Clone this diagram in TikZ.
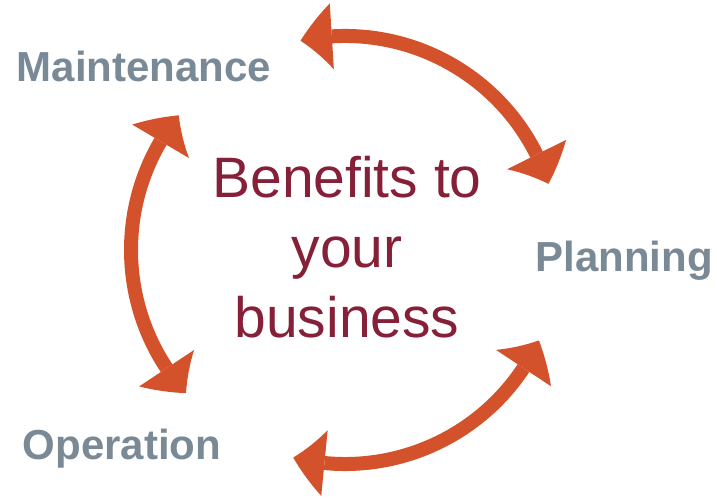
\documentclass[tikz,border=0pt]{standalone}
\usepackage{fontspec}
\setmainfont{Liberation Sans}
\usetikzlibrary{calc,positioning,arrows.meta,bending}

\definecolor{arrowred}{RGB}{211,82,43}
\definecolor{benefitred}{RGB}{133,32,56}
\definecolor{labelgray}{RGB}{122,137,150}

\begin{document}
\begin{tikzpicture}[x=1pt,y=1pt,inner sep=0mm,
  cyc/.style={line width=14pt,draw=arrowred,
    >={Triangle[length=32pt,width=66pt,line width=0pt,bend]},<->},
  lbl/.style={labelgray,font=\fontsize{42}{50}\selectfont\bfseries,anchor=base}]
\useasboundingbox (0,0) rectangle (717,502);

\coordinate (c) at (345,252);

\node (ben) [benefitred,align=center,font=\fontsize{57}{70}\selectfont] at (347,255)
  {Benefits to\\your\\business};

\node (maint) [lbl] at (144,420) {Maintenance};
\node (plan)  [lbl] at (624,230) {Planning};
\node (oper)  [lbl] at (122,42)  {Operation};

% the three two-way arcs round the middle
\draw[cyc] ($(c)+(18:214)$)  arc (18:102:214);
\draw[cyc] ($(c)+(141:214)$) arc (141:222:214);
\draw[cyc] ($(c)+(256:214)$) arc (256:335:214);
\end{tikzpicture}
\end{document}
